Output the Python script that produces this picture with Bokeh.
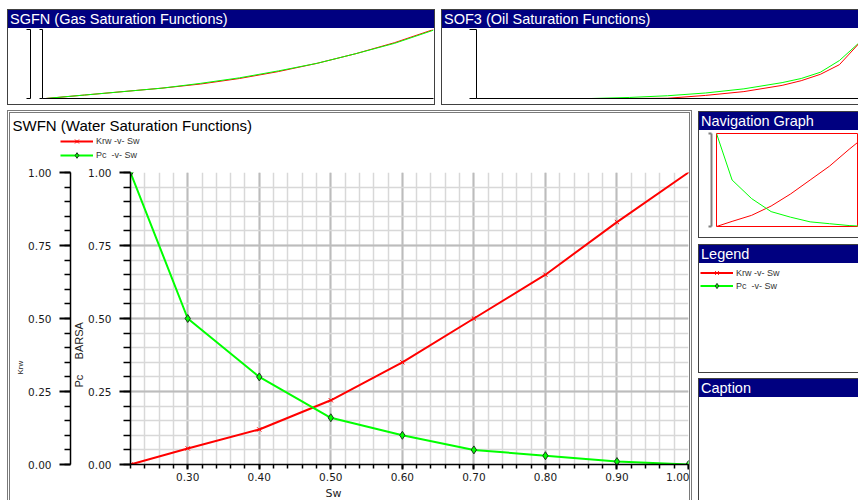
from bokeh.plotting import figure
from bokeh.models import (Range1d, LinearAxis, FixedTicker, SingleIntervalTicker,
                          NumeralTickFormatter, CustomJSTickFormatter, Legend, Label,
                          LegendItem, Div, Spacer, ColumnDataSource, Title)
from bokeh.layouts import row, column
from bokeh.embed import file_html
from bokeh.resources import INLINE

# ---------------- data ----------------
# SWFN (water)
sw = [0.22, 0.30, 0.40, 0.50, 0.60, 0.70, 0.80, 0.90, 1.00]
krw = [0.00, 0.055, 0.12, 0.22, 0.35, 0.50, 0.65, 0.83, 1.00]
pc = [1.00, 0.50, 0.30, 0.16, 0.10, 0.05, 0.03, 0.01, 0.00]

# SGFN (gas) - normalised
sg = [0.0, 0.1, 0.2, 0.3, 0.4, 0.5, 0.6, 0.7, 0.8, 0.9, 1.0]
krg = [0.0, 0.05, 0.10, 0.15, 0.21, 0.29, 0.39, 0.51, 0.65, 0.81, 1.0]
pcog = [0.0, 0.05, 0.10, 0.15, 0.22, 0.30, 0.40, 0.51, 0.65, 0.80, 0.99]

# SOF3 (oil) - normalised
so = [0.30, 0.40, 0.50, 0.60, 0.70, 0.80, 0.85, 0.90, 0.95, 1.00]
krow = [0.0, 0.0, 0.003, 0.045, 0.10, 0.19, 0.258, 0.35, 0.49, 0.79]
krog = [0.0, 0.015, 0.04, 0.08, 0.14, 0.23, 0.29, 0.38, 0.55, 0.80]

y_major = 0.25
x_major = 0.1
series_labels = ["Krw -v- Sw", "Pc  -v- Sw"]
axis_titles = ["Krw", "Pc\u00a0\u00a0\u00a0\u00a0 BARSA", "Sw"]
panel_titles = ["SGFN (Gas Saturation Functions)", "SOF3 (Oil Saturation Functions)",
                "SWFN (Water Saturation Functions)", "Navigation Graph", "Legend", "Caption"]

RED = "#ff0000"
GREEN = "#00ff00"
NAVY = "#000080"
TXT = "Liberation Sans"
TICKF = "DejaVu Sans"


def empty_fmt():
    return CustomJSTickFormatter(code="return ''")


def bar(text, w):
    return Div(text=text, width=w, height=18, margin=0,
               styles={"background-color": NAVY, "color": "#ffffff",
                       "font-family": "'Liberation Sans', Arial, sans-serif",
                       "font-size": "14.5px", "line-height": "18px",
                       "white-space": "nowrap", "overflow": "hidden",
                       "text-indent": "2px"})


def base_fig(w, h, **kw):
    f = figure(width=w, height=h, output_backend="svg", toolbar_location=None,
               background_fill_color="white", border_fill_color="white",
               outline_line_color=None, **kw)
    f.title.visible = False
    return f


def bare_axis(ax, ticks, out, color="#000000", lw=1, spacer=None):
    ax.ticker = FixedTicker(ticks=ticks)
    ax.formatter = empty_fmt()
    ax.major_tick_out = out
    ax.major_tick_in = 0
    ax.minor_tick_out = 0
    ax.minor_tick_in = 0
    ax.major_tick_line_color = color
    ax.axis_line_color = color
    ax.axis_line_width = lw
    ax.major_tick_line_width = lw
    ax.major_label_standoff = 0
    if spacer is not None:
        size, standoff = spacer
        ax.axis_label = " "
        ax.axis_label_text_font_size = size
        ax.axis_label_standoff = standoff
    else:
        ax.axis_label_standoff = 0


def legend_for(items, loc, row_h):
    return Legend(items=items, location=loc, orientation="vertical", glyph_width=33,
                  glyph_height=row_h, label_height=row_h, label_standoff=3, padding=0,
                  margin=0, spacing=0, border_line_color=None, background_fill_alpha=0,
                  label_text_font=TXT, label_text_font_size="9px", label_text_color="#333333")


def series_renderers(f, lw=2):
    a = f.line("sw", "krw", source=src, line_color=RED, line_width=lw)
    b = f.scatter("sw", "krw", source=src, marker="x", size=6, line_color=RED, line_width=1)
    c = f.line("sw", "pc", source=src, line_color=GREEN, line_width=lw)
    d = f.scatter("sw", "pc", source=src, marker="diamond", size=8, fill_color=GREEN,
                  line_color="#1e3a1e", line_width=1)
    return [LegendItem(label=series_labels[0], renderers=[a, b]),
            LegendItem(label=series_labels[1], renderers=[c, d])]


src = ColumnDataSource(dict(sw=sw, krw=krw, pc=pc))

# ---------------- SGFN ----------------
g = base_fig(426, 76, x_range=Range1d(-0.008, 1.0), y_range=Range1d(0, 1),
             min_border_left=34, min_border_right=1, min_border_top=1, min_border_bottom=6)
g.grid.visible = False
bare_axis(g.xaxis[0], [], 0)
bare_axis(g.yaxis[0], [0, 1], 3, spacer=("5px", 0))
g_outer = LinearAxis()
bare_axis(g_outer, [0, 1], 4)
g.add_layout(g_outer, "left")
g.line(sg, krg, line_color=RED, line_width=1)
g.line(sg, pcog, line_color=GREEN, line_width=1)

# ---------------- SOF3 ----------------
o = base_fig(416, 76, x_range=Range1d(0, 1.0), y_range=Range1d(0, 1),
             min_border_left=34, min_border_right=0, min_border_top=1, min_border_bottom=6)
o.grid.visible = False
bare_axis(o.xaxis[0], [], 0)
bare_axis(o.yaxis[0], [0, 1], 7)
o.line(so, krog, line_color=GREEN, line_width=1)
o.line(so, krow, line_color=RED, line_width=1)

# ---------------- SWFN header (title + legend) ----------------
hdr = base_fig(679, 51, x_range=Range1d(10, 11), y_range=Range1d(10, 11),
               min_border=0, x_axis_location=None, y_axis_location=None)
hdr.grid.visible = False
hdr.add_layout(Label(x=2, y=39, x_units="screen", y_units="screen", text=panel_titles[2],
                     text_baseline="middle", text_font=TXT, text_font_size="15px",
                     text_color="#000000"))
hdr.add_layout(legend_for(series_renderers(hdr), (50, 2), 14))

# ---------------- SWFN (main plot) ----------------
p = base_fig(679, 322, x_range=Range1d(0.22, 1.0), y_range=Range1d(0, 1),
             min_border_left=120, min_border_right=1, min_border_top=8, min_border_bottom=22)

fmt = NumeralTickFormatter(format="0.00")


def style_axis(ax, tick_out, minor_out, standoff):
    ax.formatter = fmt
    ax.major_tick_out = tick_out
    ax.major_tick_in = 0
    ax.minor_tick_out = minor_out
    ax.minor_tick_in = 0
    ax.major_tick_line_width = 2
    ax.minor_tick_line_width = 1.5
    ax.axis_line_width = 1.5
    ax.axis_line_color = "#000000"
    ax.major_tick_line_color = "#000000"
    ax.minor_tick_line_color = "#000000"
    ax.major_label_text_font = TICKF
    ax.major_label_text_font_size = "10.5px"
    ax.major_label_text_color = "#1a1a1a"
    ax.major_label_standoff = standoff
    ax.axis_label_standoff = 0


xa = p.xaxis[0]
xa.ticker = SingleIntervalTicker(interval=x_major, num_minor_ticks=5)
style_axis(xa, 5, 4, 3)

ya = p.yaxis[0]
ya.ticker = SingleIntervalTicker(interval=y_major, num_minor_ticks=5)
style_axis(ya, 11, 7, 8)

ka = LinearAxis(ticker=SingleIntervalTicker(interval=y_major, num_minor_ticks=5))
style_axis(ka, 11, 6, 8)


def side_title(text, size, offset, standoff):
    return Title(text=text, align="left", offset=offset, standoff=standoff,
                 text_font=TXT, text_font_size=size, text_font_style="normal",
                 text_color="#222222")


t_pc = side_title(axis_titles[1], "11px", 77, 1)
t_krw = side_title(axis_titles[0], "8px", 90, 2)
p.left = [ya, t_pc, ka, t_krw]

for grd in (p.xgrid[0], p.ygrid[0]):
    grd.grid_line_color = "#bcbcbc"
    grd.grid_line_width = 2
    grd.minor_grid_line_color = "#d8d8d8"
    grd.minor_grid_line_width = 1.5

series_renderers(p)

# ---------------- SWFN footer (x axis title) ----------------
ftr = base_fig(679, 14, x_range=Range1d(10, 11), y_range=Range1d(10, 11),
               min_border=0, x_axis_location=None, y_axis_location=None)
ftr.grid.visible = False
ftr.add_layout(Label(x=323, y=7, x_units="screen", y_units="screen", text=axis_titles[2],
                     text_align="center", text_baseline="middle", text_font=TICKF,
                     text_font_size="11px", text_color="#222222"))

# ---------------- Navigation ----------------
n = base_fig(159, 107, x_range=Range1d(0.22, 0.948), y_range=Range1d(0, 1),
             min_border_left=17, min_border_right=0, min_border_top=3, min_border_bottom=11,
             x_axis_location=None)
n.outline_line_color = RED
n.outline_line_width = 1
n.grid.visible = False
bare_axis(n.yaxis[0], [], 0, spacer=("2px", 0))
n.yaxis[0].axis_line_color = None
n_outer = LinearAxis()
bare_axis(n_outer, [0, 1], 3, color="#808080", lw=2)
n.add_layout(n_outer, "left")
n.line("sw", "krw", source=src, line_color=RED, line_width=1)
n.line("sw", "pc", source=src, line_color=GREEN, line_width=1)

# ---------------- Legend panel ----------------
lg = base_fig(159, 109, x_range=Range1d(10, 11), y_range=Range1d(10, 11),
              min_border=0, x_axis_location=None, y_axis_location=None)
lg.grid.visible = False
lg.add_layout(legend_for(series_renderers(lg), (1, 80), 13))

# ---------------- layout ----------------
B1 = "1px solid #404040"
DB = "3px double #7a7a7a"
box_full = {"border": B1}
box_open_right = {"border-top": B1, "border-left": B1, "border-bottom": B1}

sgfn_box = column(bar(panel_titles[0], 426), g, styles=box_full)
sof3_box = column(bar(panel_titles[1], 416), o, styles=box_open_right)
top_row = row(Spacer(width=7, height=96), sgfn_box, Spacer(width=6, height=96), sof3_box)

main_box = column(column(hdr), p, column(ftr),
                  styles={"border-top": DB, "border-left": DB, "border-right": DB})

nav_box = column(bar(panel_titles[3], 159), n, styles=box_open_right)
leg_box = column(bar(panel_titles[4], 159), lg, styles=box_open_right)
cap_box = column(bar(panel_titles[5], 159),
                 Div(text="", width=159, height=103, margin=0,
                     styles={"background-color": "#ffffff"}),
                 styles={"border-top": B1, "border-left": B1})
right_col = column(Spacer(width=160, height=1), nav_box, Spacer(width=160, height=6), leg_box,
                   Spacer(width=160, height=5), cap_box)

bottom_row = row(Spacer(width=7, height=390), main_box, Spacer(width=6, height=390), right_col)
root = column(Spacer(width=858, height=9), top_row, Spacer(width=858, height=5), bottom_row)

open("out.html", "w").write(file_html(root, INLINE))
